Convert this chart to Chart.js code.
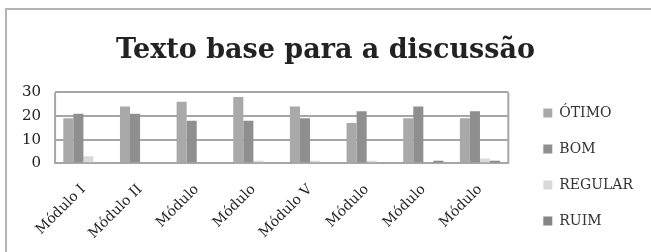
<!DOCTYPE html>
<html>
<head>
<meta charset="utf-8">
<script src="https://cdn.jsdelivr.net/npm/chart.js"></script>
<style>
  html, body { margin: 0; padding: 0; background: #fff; }
  body { width: 651px; height: 252px; position: relative; overflow: hidden; }
  #frame { position: absolute; left: 5px; top: 8px; width: 700px; height: 300px; border: 2px solid #b4b4b4; box-sizing: border-box; }
  #wrap { position: absolute; left: 0; top: 0; width: 651px; height: 252px; }
</style>
</head>
<body>
<div id="frame"></div>
<div id="wrap"><canvas id="chart" width="651" height="252"></canvas></div>
<script>
// Texto base para a discussão - notas por módulo
const modulos = ['Módulo I', 'Módulo II', 'Módulo', 'Módulo', 'Módulo V', 'Módulo', 'Módulo', 'Módulo'];
const otimo   = [19, 24, 26, 28, 24, 17, 19, 19];
const bom     = [21, 21, 18, 18, 19, 22, 24, 22];
const regular = [3, 0, 0, 1, 1, 1, 0, 2];
const ruim    = [0, 0, 0, 0, 0, 0, 1, 1];
const yTicks  = [0, 10, 20, 30];

const serif = "'DejaVu Serif', 'Liberation Serif', serif";
const LEGEND_EXTRA_W = 13;   // gap between plot and legend
const LEGEND_SHIFT_Y = 41;

// plot area outline and legend placement like the original
const boxPlugin = {
    id: 'plotBox',
    beforeUpdate(chart) {
        const lg = chart.legend;
        if (lg && !lg._wrapped) {
            const fit = lg.fit;
            lg.fit = function() {
                fit.call(this);
                this.width += LEGEND_EXTRA_W;
            };
            lg._wrapped = true;
        }
    },
    afterLayout(chart) {
        const lg = chart.legend;
        if (lg) {
            lg.left += LEGEND_EXTRA_W;
            lg.top += LEGEND_SHIFT_Y;
            lg.bottom += LEGEND_SHIFT_Y;
        }
    },
    afterDraw(chart) {
        const a = chart.chartArea, ctx = chart.ctx;
        ctx.save();
        ctx.strokeStyle = '#a6a6a6';
        ctx.lineWidth = 2;
        ctx.beginPath();
        ctx.moveTo(a.left, a.top); ctx.lineTo(a.left, a.bottom);
        ctx.moveTo(a.right, a.top); ctx.lineTo(a.right, a.bottom);
        ctx.stroke();
        ctx.restore();
    }
};

new Chart(document.getElementById('chart'), {
    type: 'bar',
    data: {
        labels: modulos,
        datasets: [
            { label: 'ÓTIMO', data: otimo, backgroundColor: '#a9a9a9' },
            { label: 'BOM', data: bom, backgroundColor: '#8f8f8f' },
            { label: 'REGULAR', data: regular, backgroundColor: '#d9d9d9' },
            { label: 'RUIM', data: ruim, backgroundColor: '#858585' }
        ]
    },
    options: {
        responsive: false,
        animation: false,
        devicePixelRatio: 1,
        layout: { padding: { left: 8, right: 8, top: 0, bottom: 0 } },
        datasets: { bar: { categoryPercentage: 0.71, barPercentage: 1.0 } },
        plugins: {
            title: {
                display: true,
                text: 'Texto base para a discussão',
                color: '#222',
                font: { family: serif, size: 27, weight: 'bold' },
                padding: { top: 35, bottom: 25 }
            },
            legend: {
                position: 'right',
                labels: {
                    color: '#333',
                    font: { family: serif, size: 14 },
                    boxWidth: 9,
                    boxHeight: 9,
                    padding: 22
                }
            },
            tooltip: { enabled: false }
        },
        scales: {
            x: {
                grid: { display: false },
                border: { display: true, color: '#a6a6a6', width: 2 },
                ticks: {
                    color: '#222',
                    font: { family: serif, size: 14 },
                    minRotation: 45,
                    maxRotation: 45,
                    autoSkip: false,
                    padding: 10
                }
            },
            y: {
                min: 0,
                max: 30,
                afterBuildTicks(axis) { axis.ticks = yTicks.map(v => ({ value: v })); },
                grid: { color: '#a6a6a6', lineWidth: 2, drawTicks: false },
                border: { display: false },
                ticks: {
                    color: '#222',
                    font: { family: serif, size: 15 },
                    padding: 14,
                    autoSkip: false
                }
            }
        }
    },
    plugins: [boxPlugin]
});
</script>
</body>
</html>
